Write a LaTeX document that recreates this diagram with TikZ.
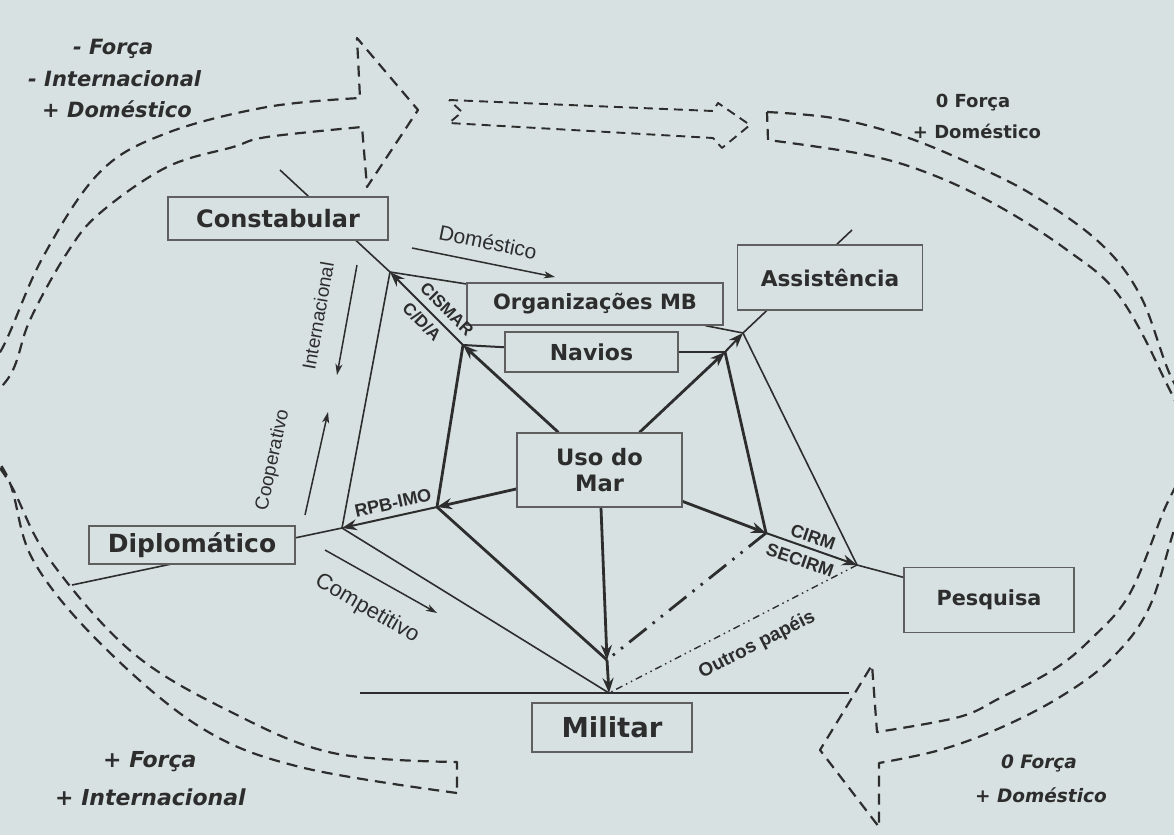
\documentclass[tikz,border=0pt]{standalone}
\usepackage{fontspec}
\setmainfont{Liberation Sans}
\newfontfamily\dv{DejaVu Sans}[BoldFont={DejaVu Sans Bold},ItalicFont={DejaVu Sans Oblique},BoldItalicFont={DejaVu Sans Bold Oblique}]
\usetikzlibrary{arrows.meta}
\pgfdeclarelayer{back}
\pgfdeclarelayer{lines}
\pgfsetlayers{back,lines,main}
\newcommand\sz[1]{\fontsize{#1}{#1}\selectfont}
\definecolor{bgc}{RGB}{215,225,225}
\definecolor{ink}{RGB}{45,45,45}
\definecolor{boxline}{RGB}{95,95,95}
\tikzset{
  bx/.style={draw=boxline, line width=1.3pt, fill=bgc, inner sep=0pt, text=ink},
  ln/.style={draw=ink, line width=1.6pt},
  lnb/.style={draw=ink, line width=2.8pt},
  tip/.style={-{Stealth[length=15pt,width=11pt,inset=5pt]}},
  smalltip/.style={-{Stealth[length=11pt,width=7pt,inset=3pt]}},
  dsh/.style={draw=ink, line width=2.2pt, dash pattern=on 11pt off 7pt, line join=round},
  lbl/.style={text=ink, inner sep=0pt},
  bxf/.style={font=\dv\bfseries\sz{#1}},
  oit/.style={font=\dv\bfseries\itshape\sz{#1}}
}
\begin{document}
\begin{tikzpicture}[x=1pt,y=-1pt]
\useasboundingbox (0,0) rectangle (1174,835);
\begin{pgfonlayer}{back}
\fill[bgc] (0,0) rectangle (1174,835);
\end{pgfonlayer}

% ---------- boxes ----------
\node[bx, bxf=24, minimum width=220pt, minimum height=43pt] (cst) at (278,218.5) {Constabular};
\node[bx, bxf=21, minimum width=256pt, minimum height=42pt] (org) at (595,304) {Organizações MB};
\node[bx, bxf=22, minimum width=173pt, minimum height=40pt] (nav) at (591.5,352) {Navios};
\node[bx, bxf=21.7, minimum width=185pt, minimum height=65pt] (ass) at (830,277.5) {Assistência};
\node[bx, bxf=22.6, minimum width=165pt, minimum height=74pt, align=center] (uso) at (599.5,470) {Uso do\\[4pt]Mar};
\node[bx, bxf=25, minimum width=206pt, minimum height=38pt] (dip) at (192,545) {Diplomático};
\node[bx, bxf=20.8, minimum width=170pt, minimum height=65pt] (pes) at (989,600) {Pesquisa};
\node[bx, bxf=27.5, minimum width=160pt, minimum height=49pt] (mil) at (612,727.5) {Militar};

% ---------- points ----------
\coordinate (A) at (390,272);
\coordinate (B) at (463,345);
\coordinate (C) at (743,333);
\coordinate (D) at (725,352);
\coordinate (E) at (342,528);
\coordinate (F) at (437,507);
\coordinate (G) at (607,660);
\coordinate (M) at (609,693);
\coordinate (H) at (766,533);
\coordinate (I) at (857,565);
\coordinate (cst0) at (280,170);
\coordinate (ass0) at (852,230);
\coordinate (dip0) at (72,585);
\coordinate (mil0) at (360,693);
\coordinate (mil1) at (849,693);

\begin{pgfonlayer}{lines}
% outer frame of roles
\draw[ln] (cst0) -- (A);
\draw[ln] (A) -- (E);
\draw[ln] (A) -- (org);
\draw[ln] (org) -- (C);
\draw[ln] (C) -- (ass0);
\draw[ln] (C) -- (I);
\draw[ln] (I) -- (pes);
\draw[ln] (dip0) -- (E);
\draw[ln] (E) -- (M);
\draw[ln, line width=2.4pt] (mil0) -- (mil1);
% inner pentagon
\draw[ln, line width=2pt] (nav) -- (B);
\draw[ln, line width=2pt] (nav) -- (D);
\draw[lnb] (B) -- (F);
\draw[lnb] (D) -- (H);
\draw[lnb] (F) -- (G);
% arrows from Uso do Mar
\draw[lnb, tip] (uso) -- (B);
\draw[lnb, tip] (uso) -- (D);
\draw[lnb, tip] (uso) -- (F);
\draw[lnb, tip] (uso) -- (H);
\draw[lnb, tip] (uso) -- (G);
\draw[lnb, tip] (G) -- (M);
% links inner -> outer
\draw[ln, line width=2pt, tip] (B) -- (A);
\draw[ln, line width=2pt, tip] (D) -- (C);
\draw[ln, line width=2pt, tip] (F) -- (E);
\draw[ln, line width=2pt, tip] (H) -- (I);
% other roles
\draw[lnb, dash pattern=on 22pt off 8pt on 2.5pt off 8pt on 2.5pt off 8pt] (H) -- (G);
\draw[ln, line width=1.4pt, dash pattern=on 7pt off 4pt on 1.5pt off 4pt on 1.5pt off 4pt] (I) -- (M);

% direction arrows
\coordinate (d1) at (412,248); \coordinate (d2) at (555,277);
\coordinate (i1) at (357,265); \coordinate (i2) at (337,375);
\coordinate (c1) at (305,515); \coordinate (c2) at (328,412);
\coordinate (p1) at (325,550); \coordinate (p2) at (437,613);
\draw[ln, line width=1.5pt, smalltip] (d1) -- (d2);
\draw[ln, line width=1.5pt, smalltip] (i1) -- (i2);
\draw[ln, line width=1.5pt, smalltip] (c1) -- (c2);
\draw[ln, line width=1.5pt, smalltip] (p1) -- (p2);

% ---------- big dashed arrows ----------
% left arrow (bottom-left tail to top-left head)
\draw[dsh] plot[smooth, tension=0.6] coordinates {(457,793) (300,767) (200,727) (100,643) (33,560) (8,478) (-32,410) (4,345) (43,257) (100,172) (167,133) (267,107) (360,98)}
  -- (357,38) -- (418,110) -- (367,187) -- (362,127)
  -- plot[smooth, tension=0.6] coordinates {(362,127) (267,137) (233,147) (167,167) (100,213) (67,253) (30,320) (12,372) (-22,425) (12,487) (50,560) (133,653) (233,713) (333,753) (457,762)}
  -- cycle;
% right arrow (top-right tail to bottom-right head)
\draw[dsh] plot[smooth, tension=0.6] coordinates {(767,112) (833,118) (900,135) (967,162) (1033,195) (1100,243) (1140,295) (1168,370) (1200,445) (1174,530) (1148,610) (1110,660) (1060,697) (1000,728) (940,750) (879,763)}
  -- (879,827) -- (820,750) -- (872,665) -- (877,732)
  -- plot[smooth, tension=0.6] coordinates {(877,732) (959,717) (1000,698) (1053,670) (1090,640) (1129,595) (1162,515) (1188,445) (1160,370) (1117,293) (1067,250) (1000,207) (933,175) (867,155) (768,140)}
  -- cycle;
% top middle arrow
\draw[dsh, line width=1.9pt, dash pattern=on 9pt off 6pt] (449,100) -- (713,111) -- (718,103) -- (750,125) -- (722,148) -- (713,138) -- (449,123) -- (462,112) -- cycle;
\end{pgfonlayer}

% ---------- link labels ----------
\node[lbl, font=\bfseries\sz{17}, rotate=-45] (lcis) at (447,309) {CISMAR};
\node[lbl, font=\bfseries\sz{17}, rotate=-45] (lcda) at (422,322) {C/D/A};
\node[lbl, font=\bfseries\sz{18}, rotate=12.5] (lrpb) at (393,503) {RPB-IMO};
\node[lbl, font=\bfseries\sz{18}, rotate=-19] (lcirm) at (813,537) {CIRM};
\node[lbl, font=\bfseries\sz{18}, rotate=-19] (lsec) at (800,560) {SECIRM};
\node[lbl, font=\bfseries\sz{19}, rotate=27] (lout) at (757,645) {Outros papéis};

% direction labels
\node[lbl, font=\sz{21}, rotate=-11.5] (tdom) at (488,242) {Doméstico};
\node[lbl, font=\sz{19}, rotate=80] (tint) at (318,316) {Internacional};
\node[lbl, font=\sz{19}, rotate=78] (tcoop) at (273,460) {Cooperativo};
\node[lbl, font=\sz{22}, rotate=-30] (tcomp) at (367,609) {Competitivo};

% corner labels
\node[lbl, oit=21, anchor=west] (tl1) at (73,49) {- Força};
\node[lbl, oit=21, anchor=west] (tl2) at (28,79) {- Internacional};
\node[lbl, oit=21, anchor=west] (tl3) at (42,109) {+ Doméstico};
\node[lbl, bxf=18] (tr1) at (973,103) {0 Força};
\node[lbl, bxf=18] (tr2) at (977,131) {+ Doméstico};
\node[lbl, oit=22, anchor=west] (bl1) at (103,762) {+ Força};
\node[lbl, oit=22, anchor=west] (bl2) at (55,797) {+ Internacional};
\node[lbl, oit=18.5] (br1) at (1039,763) {0 Força};
\node[lbl, oit=18.5] (br2) at (1041,795) {+ Doméstico};
\end{tikzpicture}
\end{document}
